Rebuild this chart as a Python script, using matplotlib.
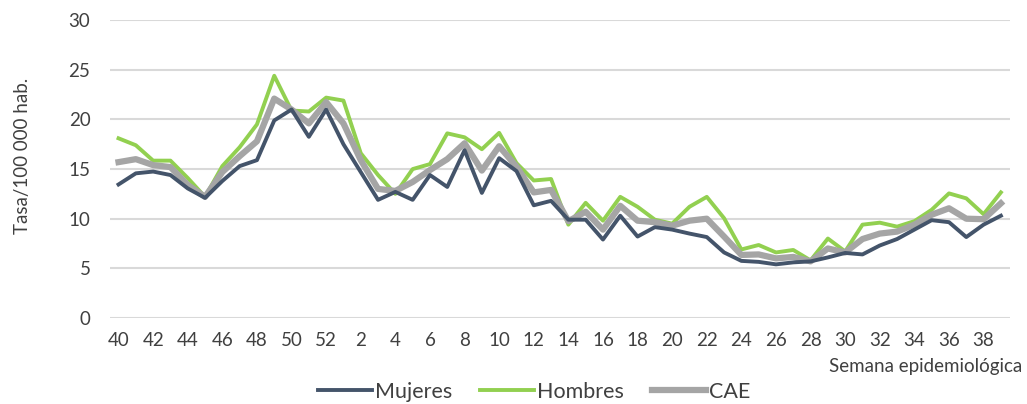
import matplotlib
matplotlib.use("Agg")
import matplotlib.pyplot as plt
import numpy as np

weeks = [40, 41, 42, 43, 44, 45, 46, 47, 48, 49, 50, 51, 52] + list(range(1, 40))
mujeres = [13.45, 14.57, 14.75, 14.4, 13.05, 12.1, 13.8, 15.3, 15.9, 19.9, 21.0, 18.25, 21.0,
           17.5, 14.7, 11.9, 12.7, 11.9, 14.4, 13.2, 16.9, 12.6, 16.1, 14.8, 11.35, 11.8,
           9.9, 9.9, 7.9, 10.3, 8.2, 9.15, 8.9, 8.5, 8.15, 6.6, 5.75, 5.65, 5.4, 5.6,
           5.7, 6.1, 6.55, 6.4, 7.3, 7.95, 8.9, 9.85, 9.65, 8.15, 9.4, 10.3]
hombres = [18.1, 17.4, 15.85, 15.85, 14.1, 12.2, 15.3, 17.2, 19.5, 24.4, 20.9, 20.8, 22.2,
           21.9, 16.6, 14.4, 12.5, 15.0, 15.5, 18.6, 18.2, 17.0, 18.65, 15.6, 13.85, 14.0,
           9.4, 11.6, 9.8, 12.2, 11.2, 9.9, 9.5, 11.2, 12.2, 10.05, 6.9, 7.35, 6.6, 6.85,
           5.8, 8.0, 6.7, 9.4, 9.6, 9.2, 9.75, 10.9, 12.55, 12.05, 10.45, 12.65]
cae = [15.7, 16.0, 15.4, 15.2, 13.4, 12.2, 14.7, 16.3, 17.8, 22.1, 21.0, 19.6, 21.75,
       19.6, 15.9, 13.0, 12.8, 13.7, 14.9, 16.0, 17.6, 14.85, 17.3, 15.25, 12.65, 12.9,
       9.75, 10.7, 8.9, 11.3, 9.8, 9.65, 9.3, 9.8, 10.0, 8.2, 6.35, 6.4, 6.0, 6.15,
       5.7, 7.0, 6.6, 7.95, 8.5, 8.7, 9.4, 10.4, 11.05, 10.0, 9.95, 11.55]
yticks = [0, 5, 10, 15, 20, 25, 30]

text_color = "#404040"
plt.rcParams['font.family'] = ['Lato', 'DejaVu Sans']

fig = plt.figure(figsize=(10.27, 4.04), dpi=100)
ax = fig.add_axes([0.107, 0.213, 0.876, 0.737])

x = np.arange(len(weeks))
ax.plot(x, mujeres, color="#44546a", lw=2.8, label="Mujeres", solid_joinstyle="round", zorder=3)
ax.plot(x, hombres, color="#92d050", lw=2.8, label="Hombres", solid_joinstyle="round", zorder=2)
ax.plot(x, cae, color="#a5a5a5", lw=4.5, label="CAE", solid_joinstyle="round", zorder=2.5)

ax.set_xlim(-0.5, len(weeks) - 0.5)
ax.set_ylim(0, 30)
ax.set_yticks(yticks)
ax.set_xticks(x[::2])
ax.set_xticklabels([str(w) for w in weeks[::2]])
ax.grid(axis="y", color="#d9d9d9", lw=1.5, zorder=0)
ax.set_axisbelow(True)
for s in ax.spines.values():
    s.set_visible(False)
ax.tick_params(axis="both", length=0, labelsize=13.5, colors=text_color)
ax.tick_params(axis="y", pad=14)
ax.tick_params(axis="x", pad=10)

fig.text(0.022, 0.614, "Tasa/100 000 hab.", rotation=90, ha="center", va="center",
         fontsize=13.5, color=text_color)
fig.text(0.995, 0.094, "Semana epidemiológica", ha="right", va="center",
         fontsize=13.5, color=text_color)

leg = fig.legend(loc="center", bbox_to_anchor=(0.52, 0.03), ncol=3, frameon=False,
                 fontsize=15.5, handlelength=2.5, handletextpad=0.15, columnspacing=1.3)
for t in leg.get_texts():
    t.set_color(text_color)

fig.savefig("out.png", dpi=100)
